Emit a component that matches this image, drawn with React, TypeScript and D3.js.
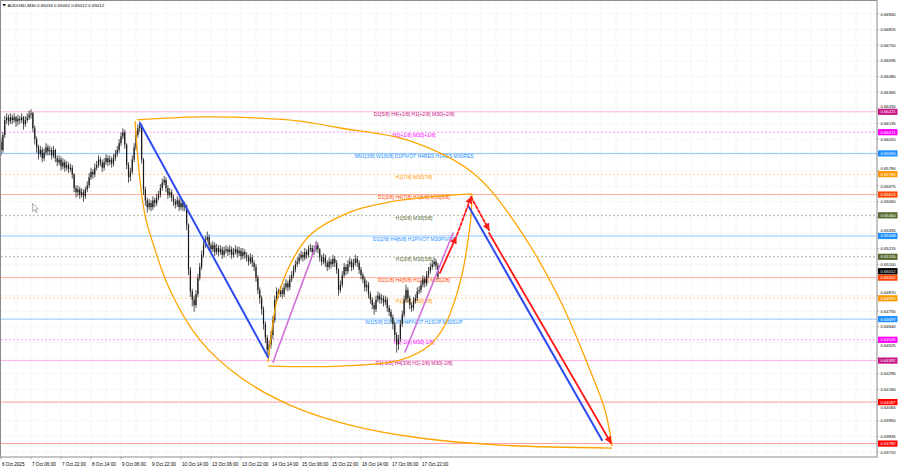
import React from "react";
import * as d3 from "d3";

const W = 900;
const H = 468;

// ---- header ----
const symbolTitle = "AUDUSD,M30  0.65034 0.65052 0.65012 0.65012";

// ---- time axis (hourly bar index of each label) ----
const timeLabels = ["6 Oct 2025", "7 Oct 06:00", "7 Oct 22:00", "8 Oct 14:00", "9 Oct 06:00", "9 Oct 22:00", "10 Oct 14:00", "13 Oct 06:00", "13 Oct 22:00", "14 Oct 14:00", "15 Oct 06:00", "15 Oct 22:00", "16 Oct 14:00", "17 Oct 06:00", "17 Oct 22:00"];
const timeLabelBars = [0, 16, 32, 48, 64, 80, 96, 112, 128, 144, 160, 176, 192, 208, 224];
const gridBars = [8, 16, 24, 32, 40, 48, 56, 64, 72, 80, 88, 96, 104, 112, 120, 128, 136, 144, 152, 160, 168, 176, 184, 192, 200, 208, 216, 224, 232, 240, 248, 256, 264, 272, 280, 288, 296, 304, 312, 320, 328, 336, 344, 352, 360, 368, 376, 384, 392, 400, 408, 416, 424, 432, 440, 448, 456, 464];

// ---- price axis ----
const priceTicks = [0.6694, 0.66825, 0.6671, 0.66595, 0.6648, 0.66365, 0.6625, 0.66135, 0.6602, 0.65905, 0.6579, 0.65675, 0.6556, 0.65445, 0.6533, 0.65215, 0.651, 0.64985, 0.6487, 0.64755, 0.6464, 0.64525, 0.6441, 0.64295, 0.6418, 0.64065, 0.6395, 0.63835, 0.6372];
const priceMin = 0.6372;
const priceMax = 0.6694;
const barsVisible = 467.2;

// ---- candles (hourly) ----
const firstOpen = 0.66;
const closes = [
  0.6594, 0.6605, 0.6616, 0.6618, 0.6615, 0.6618, 0.6616, 0.6618, 0.6615, 0.6617,
  0.6616, 0.6618, 0.6613, 0.6616, 0.6618, 0.6620, 0.6621, 0.6610, 0.6602, 0.6596,
  0.6591, 0.6594, 0.6588, 0.6592, 0.6596, 0.6593, 0.6594, 0.6590, 0.6594, 0.6588,
  0.6585, 0.6587, 0.6582, 0.6585, 0.6581, 0.6583, 0.6580, 0.6581, 0.6576, 0.6566,
  0.6563, 0.6565, 0.6561, 0.6563, 0.6560, 0.6565, 0.6568, 0.6574, 0.6578, 0.6576,
  0.6581, 0.6583, 0.6587, 0.6585, 0.6581, 0.6585, 0.6588, 0.6585, 0.6587, 0.6584,
  0.6588, 0.6591, 0.6594, 0.6599, 0.6604, 0.6607, 0.6598, 0.6583, 0.6574, 0.6578,
  0.6587, 0.6596, 0.6605, 0.6610, 0.6612, 0.6587, 0.6565, 0.6557, 0.6552, 0.6555,
  0.6552, 0.6557, 0.6555, 0.6559, 0.6561, 0.6566, 0.6570, 0.6572, 0.6566, 0.6561,
  0.6563, 0.6559, 0.6556, 0.6554, 0.6557, 0.6552, 0.6555, 0.6552, 0.6553, 0.6539,
  0.6506, 0.6490, 0.6484, 0.6480, 0.6488, 0.6500, 0.6508, 0.6517, 0.6524, 0.6528,
  0.6530, 0.6524, 0.6521, 0.6524, 0.6519, 0.6522, 0.6519, 0.6521, 0.6517, 0.6520,
  0.6521, 0.6519, 0.6521, 0.6517, 0.6519, 0.6521, 0.6518, 0.6520, 0.6516, 0.6519,
  0.6517, 0.6515, 0.6512, 0.6515, 0.6511, 0.6508, 0.6500, 0.6491, 0.6485, 0.6477,
  0.6466, 0.6456, 0.6447, 0.6451, 0.6458, 0.6469, 0.6484, 0.6490, 0.6488, 0.6491,
  0.6488, 0.6493, 0.6496, 0.6493, 0.6499, 0.6502, 0.6506, 0.6510, 0.6512, 0.6515,
  0.6517, 0.6515, 0.6519, 0.6517, 0.6521, 0.6522, 0.6519, 0.6521, 0.6524, 0.6521,
  0.6515, 0.6512, 0.6515, 0.6511, 0.6508, 0.6512, 0.6510, 0.6514, 0.6511, 0.6506,
  0.6491, 0.6495, 0.6502, 0.6508, 0.6505, 0.6510, 0.6512, 0.6508, 0.6511, 0.6514,
  0.6511, 0.6506, 0.6502, 0.6499, 0.6493, 0.6495, 0.6488, 0.6484, 0.6480, 0.6477,
  0.6484, 0.6487, 0.6484, 0.6485, 0.6482, 0.6484, 0.6478, 0.6475, 0.6471, 0.6466,
  0.6458, 0.6451, 0.6455, 0.6466, 0.6473, 0.6484, 0.6491, 0.6485, 0.6480, 0.6478,
  0.6483, 0.6485, 0.6490, 0.6491, 0.6495, 0.6499, 0.6496, 0.6502, 0.6505, 0.6508,
  0.6510, 0.6512, 0.6509, 0.6501,
];
const highs = [
  0.6603, 0.6607, 0.6619, 0.6621, 0.6620, 0.6621, 0.6620, 0.6621, 0.6619, 0.6620,
  0.6619, 0.6621, 0.6619, 0.6619, 0.6621, 0.6623, 0.6624, 0.6622, 0.6612, 0.6604,
  0.6598, 0.6597, 0.6596, 0.6595, 0.6599, 0.6598, 0.6597, 0.6596, 0.6597, 0.6595,
  0.6590, 0.6590, 0.6589, 0.6588, 0.6587, 0.6586, 0.6585, 0.6584, 0.6583, 0.6577,
  0.6568, 0.6568, 0.6567, 0.6566, 0.6565, 0.6567, 0.6571, 0.6577, 0.6581, 0.6580,
  0.6584, 0.6586, 0.6590, 0.6589, 0.6587, 0.6588, 0.6591, 0.6590, 0.6590, 0.6589,
  0.6591, 0.6594, 0.6597, 0.6602, 0.6607, 0.6610, 0.6609, 0.6599, 0.6585, 0.6581,
  0.6590, 0.6599, 0.6608, 0.6613, 0.6615, 0.6613, 0.6588, 0.6567, 0.6559, 0.6558,
  0.6557, 0.6560, 0.6559, 0.6562, 0.6564, 0.6569, 0.6573, 0.6575, 0.6574, 0.6568,
  0.6566, 0.6565, 0.6561, 0.6558, 0.6560, 0.6559, 0.6558, 0.6557, 0.6556, 0.6554,
  0.6540, 0.6508, 0.6492, 0.6487, 0.6491, 0.6503, 0.6511, 0.6520, 0.6527, 0.6531,
  0.6534, 0.6532, 0.6526, 0.6527, 0.6526, 0.6525, 0.6524, 0.6524, 0.6523, 0.6523,
  0.6524, 0.6523, 0.6524, 0.6523, 0.6522, 0.6524, 0.6523, 0.6523, 0.6522, 0.6522,
  0.6521, 0.6519, 0.6517, 0.6518, 0.6517, 0.6513, 0.6510, 0.6502, 0.6493, 0.6487,
  0.6479, 0.6468, 0.6458, 0.6454, 0.6461, 0.6472, 0.6487, 0.6493, 0.6492, 0.6494,
  0.6493, 0.6496, 0.6499, 0.6498, 0.6502, 0.6505, 0.6509, 0.6513, 0.6515, 0.6518,
  0.6520, 0.6519, 0.6522, 0.6521, 0.6524, 0.6525, 0.6524, 0.6524, 0.6527, 0.6526,
  0.6522, 0.6517, 0.6518, 0.6517, 0.6513, 0.6515, 0.6514, 0.6517, 0.6516, 0.6513,
  0.6507, 0.6498, 0.6505, 0.6511, 0.6510, 0.6513, 0.6515, 0.6514, 0.6514, 0.6517,
  0.6516, 0.6513, 0.6508, 0.6504, 0.6501, 0.6498, 0.6497, 0.6490, 0.6486, 0.6482,
  0.6487, 0.6490, 0.6489, 0.6488, 0.6487, 0.6487, 0.6486, 0.6480, 0.6477, 0.6473,
  0.6468, 0.6460, 0.6458, 0.6469, 0.6476, 0.6487, 0.6495, 0.6493, 0.6487, 0.6482,
  0.6486, 0.6488, 0.6493, 0.6494, 0.6498, 0.6502, 0.6501, 0.6505, 0.6508, 0.6511,
  0.6513, 0.6515, 0.6514, 0.6511,
];
const lows = [
  0.6590, 0.6592, 0.6603, 0.6613, 0.6612, 0.6613, 0.6613, 0.6614, 0.6611, 0.6612,
  0.6613, 0.6614, 0.6609, 0.6611, 0.6614, 0.6616, 0.6617, 0.6607, 0.6598, 0.6592,
  0.6587, 0.6589, 0.6585, 0.6586, 0.6590, 0.6590, 0.6590, 0.6587, 0.6588, 0.6585,
  0.6582, 0.6583, 0.6579, 0.6580, 0.6578, 0.6579, 0.6577, 0.6578, 0.6573, 0.6563,
  0.6559, 0.6560, 0.6558, 0.6559, 0.6556, 0.6558, 0.6563, 0.6566, 0.6572, 0.6573,
  0.6574, 0.6579, 0.6581, 0.6582, 0.6578, 0.6579, 0.6583, 0.6582, 0.6583, 0.6581,
  0.6582, 0.6586, 0.6589, 0.6592, 0.6597, 0.6602, 0.6595, 0.6580, 0.6570, 0.6571,
  0.6576, 0.6585, 0.6594, 0.6603, 0.6607, 0.6584, 0.6561, 0.6553, 0.6548, 0.6550,
  0.6549, 0.6550, 0.6552, 0.6553, 0.6557, 0.6559, 0.6564, 0.6568, 0.6563, 0.6558,
  0.6559, 0.6556, 0.6553, 0.6551, 0.6552, 0.6549, 0.6550, 0.6549, 0.6549, 0.6535,
  0.6502, 0.6486, 0.6479, 0.6475, 0.6478, 0.6486, 0.6498, 0.6506, 0.6515, 0.6522,
  0.6526, 0.6521, 0.6518, 0.6519, 0.6516, 0.6517, 0.6516, 0.6517, 0.6514, 0.6515,
  0.6518, 0.6516, 0.6517, 0.6514, 0.6515, 0.6517, 0.6515, 0.6516, 0.6513, 0.6514,
  0.6514, 0.6512, 0.6509, 0.6510, 0.6508, 0.6505, 0.6497, 0.6488, 0.6481, 0.6473,
  0.6462, 0.6452, 0.6442, 0.6443, 0.6448, 0.6455, 0.6467, 0.6482, 0.6485, 0.6486,
  0.6485, 0.6486, 0.6491, 0.6490, 0.6491, 0.6497, 0.6500, 0.6504, 0.6508, 0.6510,
  0.6513, 0.6512, 0.6513, 0.6514, 0.6515, 0.6519, 0.6516, 0.6517, 0.6519, 0.6518,
  0.6512, 0.6509, 0.6510, 0.6508, 0.6505, 0.6506, 0.6507, 0.6508, 0.6508, 0.6503,
  0.6487, 0.6489, 0.6493, 0.6500, 0.6502, 0.6503, 0.6508, 0.6505, 0.6506, 0.6509,
  0.6508, 0.6503, 0.6499, 0.6496, 0.6490, 0.6490, 0.6485, 0.6481, 0.6477, 0.6473,
  0.6475, 0.6482, 0.6481, 0.6481, 0.6479, 0.6480, 0.6475, 0.6472, 0.6467, 0.6462,
  0.6454, 0.6445, 0.6447, 0.6453, 0.6464, 0.6471, 0.6482, 0.6482, 0.6477, 0.6475,
  0.6476, 0.6481, 0.6483, 0.6488, 0.6489, 0.6493, 0.6493, 0.6494, 0.6500, 0.6503,
  0.6506, 0.6508, 0.6506, 0.6499,
];

// ---- Murrey-style levels ----
const levelPrices = [0.66221, 0.66071, 0.65915, 0.65763, 0.65613, 0.6546, 0.65308, 0.65155, 0.65002, 0.6485, 0.64697, 0.64545, 0.64392, 0.64087, 0.63782];
const levelTexts = [
  "D1[5/8] H4[+1/8] H1[+2/8] M30[+2/8]",
  "H1[+1/8] M30[+1/8]",
  "MN1[3/8] W1[6/8] D1PIVOT H4RES H1RES M30RES",
  "H1[7/8] M30[7/8]",
  "D1[3/8] H4[7/8] H1[6/8] M30[6/8]",
  "H1[5/8] M30[5/8]",
  "D1[2/8] H4[6/8] H1PIVOT M30PIVOT",
  "H1[3/8] M30[3/8]",
  "D1[1/8] H4[5/8] H1[2/8] M30[2/8]",
  "H1[1/8] M30[1/8]",
  "W1[5/8] D1SUP H4PIVOT H1SUP M30SUP",
  "H1[-1/8] M30[-1/8]",
  "D1[-1/8] H4[3/8] H1[-2/8] M30[-2/8]",
  "",
  "",
];
const levelKinds = ["outer", "h1outer", "pivot", "h1upper", "major", "h1mid", "pivot", "h1mid", "major", "h1upper", "pivot", "h1outer", "outer", "target", "target"];
const currentPrice = 0.65012;

// ---- drawn objects: [bar, price] ----
const blueSwing: [number, number][] = [[74.1, 0.66139], [142.4, 0.64418]];
const blueProjection: [number, number][] = [[249.6, 0.65521], [320.5, 0.63808]];
const orchidSwing1: [number, number][] = [[145.1, 0.64382], [168.5, 0.65256]];
const orchidSwing2: [number, number][] = [[215.5, 0.64455], [241.1, 0.6533]];
const redNow: [number, number][] = [[234.1, 0.65036], [242.7, 0.653]];
const redDashUp: [number, number][] = [[243.2, 0.65315], [250.7, 0.65595]];
const redDashDown: [number, number][] = [[250.7, 0.65595], [260.3, 0.65352]];
const redTarget: [number, number][] = [[260.3, 0.6533], [325.3, 0.63786]];

const outerUpper: [number, number][] = [[72.5, 0.66161], [106.1, 0.66183], [138.1, 0.66175], [159.5, 0.66153], [180.8, 0.66102], [216.5, 0.66014], [251.7, 0.65771], [276.8, 0.65352], [298.1, 0.64837], [314.1, 0.64323], [322.1, 0.64029], [325.9, 0.63764]];
const outerLower: [number, number][] = [[71.5, 0.66153], [74.1, 0.6572], [76.8, 0.65462], [80.5, 0.65278], [90.1, 0.64911], [106.1, 0.64543], [127.5, 0.64271], [154.1, 0.64065], [186.1, 0.63918], [223.5, 0.63823], [266.1, 0.63771], [325.9, 0.63749]];
const innerUpper: [number, number][] = [[142.4, 0.64382], [144.5, 0.64617], [147.2, 0.64837], [154.1, 0.65095], [164.8, 0.65315], [186.1, 0.65484], [207.5, 0.65558], [228.8, 0.65595], [251.2, 0.65617]];
const innerLower: [number, number][] = [[142.4, 0.64352], [180.8, 0.64352], [212.8, 0.64396], [228.8, 0.64507], [236.8, 0.64654], [242.1, 0.64837], [246.4, 0.65058], [249.1, 0.65278], [250.7, 0.65462], [251.2, 0.65617]];

// ---- styles ----
const FONT = "'Liberation Sans', Arial, sans-serif";
const levelStyle: Record<string, { line: string; dash?: string; text: string; box: string }> = {
  outer: { line: "#f6a9dc", text: "#c71585", box: "#c71585" },
  h1outer: { line: "#ff7fff", dash: "2,2", text: "#ff00ff", box: "#ff00ff" },
  pivot: { line: "#80bfff", text: "#1e90ff", box: "#1e90ff" },
  h1upper: { line: "#ffc98a", dash: "2,2", text: "#ff9900", box: "#ff9900" },
  major: { line: "#ffa590", text: "#ff4500", box: "#ff4500" },
  h1mid: { line: "#a8a890", dash: "2,2", text: "#556b2f", box: "#556b2f" },
  target: { line: "#ff8c8c", text: "#ff0000", box: "#ff0000" },
};

const PLOT_R = 877;
const PLOT_B = 457;
const BOX_H = 6.2;

export default function App() {
  const x = d3.scaleLinear().domain([0, barsVisible]).range([1, PLOT_R]);
  const y = d3.scaleLinear().domain([priceMin, priceMax]).range([452, 14]);

  const straight = d3
    .line<[number, number]>()
    .x((d) => x(d[0]))
    .y((d) => y(d[1]));
  const smooth = d3
    .line<[number, number]>()
    .x((d) => x(d[0]))
    .y((d) => y(d[1]))
    .curve(d3.curveCatmullRom.alpha(0.5));

  const opens = closes.map((_, i) => (i === 0 ? firstOpen : closes[i - 1]));

  // price-axis boxes: the current-price box is stacked just above the level box it touches
  const levelBoxY = levelPrices.map((p) => y(p));
  let curBoxY = y(currentPrice);
  levelBoxY.forEach((by) => {
    if (Math.abs(by - curBoxY) < BOX_H) curBoxY = by - BOX_H - 0.2;
  });
  const allBoxY = [...levelBoxY, curBoxY];

  const tickItems = priceTicks
    .map((p) => {
      const ty = y(p);
      let nearest = Infinity;
      let nearestY = 0;
      allBoxY.forEach((by) => {
        const d = Math.abs(by - ty);
        if (d < nearest) {
          nearest = d;
          nearestY = by;
        }
      });
      if (nearest < 2.6) return null;
      let base = ty + 1.5;
      if (nearest < 5.6) {
        base = ty < nearestY ? nearestY - BOX_H / 2 - 1.1 : nearestY + BOX_H / 2 + 3.8;
      }
      return { p, ty, base };
    })
    .filter((d): d is { p: number; ty: number; base: number } => d !== null);

  return (
    <svg
      width={W}
      height={H}
      viewBox={`0 0 ${W} ${H}`}
      style={{ position: "fixed", left: 0, top: 0, background: "#fff" }}
      fontFamily={FONT}
    >
      <defs>
        <marker id="arrowRed" viewBox="0 0 10 10" refX="9" refY="5" markerWidth="4" markerHeight="4" orient="auto">
          <path d="M0,0 L10,5 L0,10 z" fill="#ff1a1a" />
        </marker>
      </defs>
      <rect x={0} y={0} width={W} height={H} fill="#fff" />

      {/* grid */}
      <g stroke="#dcdcdc" strokeWidth={0.6} strokeDasharray="1,1.5">
        {priceTicks.map((p, i) => (
          <line key={"hg" + i} x1={1} x2={PLOT_R} y1={y(p)} y2={y(p)} />
        ))}
        {gridBars.map((b, i) => (
          <line key={"vg" + i} x1={x(b)} x2={x(b)} y1={1} y2={PLOT_B} />
        ))}
      </g>

      {/* levels */}
      {levelPrices.map((p, i) => {
        const s = levelStyle[levelKinds[i]];
        return (
          <line key={"lv" + i} x1={1} x2={PLOT_R} y1={y(p)} y2={y(p)} stroke={s.line} strokeWidth={0.9} strokeDasharray={s.dash} />
        );
      })}
      {levelPrices.map((p, i) => {
        const s = levelStyle[levelKinds[i]];
        return levelTexts[i] ? (
          <text key={"lt" + i} x={414} y={y(p) + 4.6} fontSize={5} fill={s.text} textAnchor="middle">
            {levelTexts[i]}
          </text>
        ) : null;
      })}

      {/* candles */}
      <g>
        {closes.map((c, i) => {
          const cx = x(i);
          const o = opens[i];
          const top = y(Math.max(o, c));
          const bot = y(Math.min(o, c));
          return (
            <g key={"c" + i}>
              <line x1={cx} x2={cx} y1={y(highs[i])} y2={y(lows[i])} stroke="#2a2a2a" strokeWidth={0.8} />
              <rect x={cx - 0.6} y={top} width={1.2} height={Math.max(0.6, bot - top)} fill="#1a1a1a" />
            </g>
          );
        })}
      </g>

      {/* curves */}
      <g fill="none" stroke="#ffa500" strokeWidth={1.3}>
        <path d={smooth(outerUpper) ?? ""} />
        <path d={smooth(outerLower) ?? ""} />
        <path d={smooth(innerUpper) ?? ""} />
        <path d={smooth(innerLower) ?? ""} />
      </g>

      {/* trend lines */}
      <g fill="none" strokeLinecap="round">
        <path d={straight(blueSwing) ?? ""} stroke="#2d4cf0" strokeWidth={2} />
        <path d={straight(blueProjection) ?? ""} stroke="#2d4cf0" strokeWidth={2} />
        <path d={straight(orchidSwing1) ?? ""} stroke="#d070d8" strokeWidth={1.6} />
        <path d={straight(orchidSwing2) ?? ""} stroke="#d070d8" strokeWidth={1.6} />
        <path d={straight(redNow) ?? ""} stroke="#ff1a1a" strokeWidth={1.8} markerEnd="url(#arrowRed)" />
        <path d={straight(redDashUp) ?? ""} stroke="#ff1a1a" strokeWidth={1.8} strokeDasharray="3,2" markerEnd="url(#arrowRed)" />
        <path d={straight(redDashDown) ?? ""} stroke="#ff1a1a" strokeWidth={1.8} strokeDasharray="3,2" markerEnd="url(#arrowRed)" />
        <path d={straight(redTarget) ?? ""} stroke="#ff1a1a" strokeWidth={1.8} markerEnd="url(#arrowRed)" />
      </g>

      {/* mouse cursor */}
      <path d="M32.5,203.5 l0,8 l2,-1.8 l1.5,3 l1.1,-0.5 l-1.5,-3 l2.8,-0.2 z" fill="#fff" stroke="#666" strokeWidth={0.5} />

      {/* frame */}
      <rect x={0.5} y={0.5} width={PLOT_R - 0.5} height={PLOT_B - 0.5} fill="none" stroke="#8c8c8c" strokeWidth={1} />

      {/* header */}
      <path d="M2.5,4 L6,4 L4.25,6.5 z" fill="#000" />
      <text x={7.5} y={6.6} fontSize={4.4} fill="#000">
        {symbolTitle}
      </text>

      {/* price axis */}
      <g fontSize={4.2}>
        {priceTicks.map((p, i) => (
          <line key={"ptm" + i} x1={PLOT_R} x2={PLOT_R + 2} y1={y(p)} y2={y(p)} stroke="#8c8c8c" strokeWidth={0.6} />
        ))}
        {tickItems.map((t, i) => (
          <text key={"pt" + i} x={880.5} y={t.base} fill="#000">
            {t.p.toFixed(5)}
          </text>
        ))}
        {levelPrices.map((p, i) => {
          const s = levelStyle[levelKinds[i]];
          const by = levelBoxY[i];
          return (
            <g key={"pb" + i}>
              <rect x={878} y={by - BOX_H / 2} width={19.5} height={BOX_H} fill={s.box} />
              <text x={880.5} y={by + 1.5} fill="#fff">
                {p.toFixed(5)}
              </text>
            </g>
          );
        })}
        <rect x={878} y={curBoxY - BOX_H / 2} width={19.5} height={BOX_H} fill="#000" />
        <text x={880.5} y={curBoxY + 1.5} fill="#fff">
          {currentPrice.toFixed(5)}
        </text>
      </g>

      {/* time axis */}
      <g fontSize={4.6}>
        {timeLabelBars.map((b, i) => (
          <g key={"tl" + i}>
            <line x1={x(b)} x2={x(b)} y1={PLOT_B} y2={PLOT_B + 2.5} stroke="#8c8c8c" strokeWidth={0.6} />
            <text x={x(b) + 1} y={465.5} fill="#000">
              {timeLabels[i]}
            </text>
          </g>
        ))}
      </g>
    </svg>
  );
}
